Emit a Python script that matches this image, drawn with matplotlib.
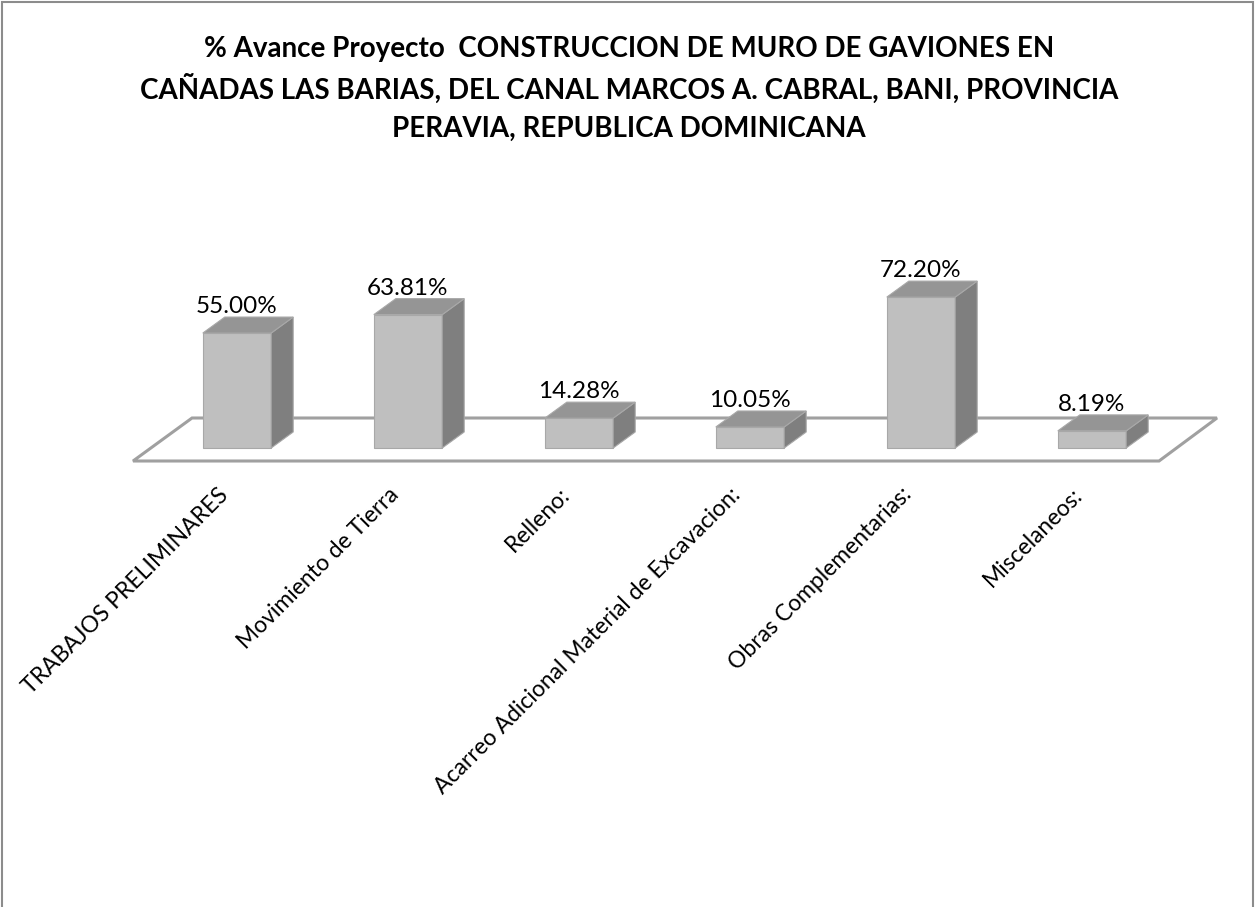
import matplotlib
matplotlib.use("Agg")
import matplotlib.pyplot as plt
from matplotlib.patches import Polygon, Rectangle

# data
categories = [
    "TRABAJOS PRELIMINARES",
    "Movimiento de Tierra",
    "Relleno:",
    "Acarreo Adicional Material de Excavacion:",
    "Obras Complementarias:",
    "Miscelaneos:",
]
values = [55.00, 63.81, 14.28, 10.05, 72.20, 8.19]

title_lines = [
    "% Avance Proyecto  CONSTRUCCION DE MURO DE GAVIONES EN",
    "CAÑADAS LAS BARIAS, DEL CANAL MARCOS A. CABRAL, BANI, PROVINCIA",
    "PERAVIA, REPUBLICA DOMINICANA",
]

W, H = 1256, 907
FONT = "Lato"

# colours of the fake 3d bars
FRONT = "#bfbfbf"
TOP = "#959595"
SIDE = "#7f7f7f"
EDGE = "#a8a8a8"

fig = plt.figure(figsize=(W / 100, H / 100), dpi=100)

# axes placed so one category = 171 px and 1 % = 2.09 px
step_px, pct_px = 171.0, 2.09
x0_px, y0_px = 237.0, 448.0
xlim = (-0.75, 5.85)
ylim = (-10, 90)
left = x0_px + xlim[0] * step_px
bottom = H - (y0_px - ylim[0] * pct_px)
ax = fig.add_axes([left / W, bottom / H,
                   (xlim[1] - xlim[0]) * step_px / W,
                   (ylim[1] - ylim[0]) * pct_px / H])
ax.set_xlim(*xlim)
ax.set_ylim(*ylim)
ax.axis("off")

bar_w = 0.4
dx, dy = 22 / step_px, 16 / pct_px  # bar depth offset

# floor plane
fl_front, fl_back = -13 / pct_px, 30 / pct_px
floor = Polygon([(-0.608, fl_front), (5.392, fl_front),
                 (5.731, fl_back), (-0.263, fl_back)],
                closed=True, facecolor="white", edgecolor="#a0a0a0",
                linewidth=2.2, zorder=1)
ax.add_patch(floor)

xs = list(range(len(values)))
ax.bar(xs, values, width=bar_w, color=FRONT, edgecolor=EDGE,
       linewidth=0.8, zorder=3)

for x, v in zip(xs, values):
    r = x + bar_w / 2
    l = x - bar_w / 2
    side = Polygon([(r, 0), (r + dx, dy), (r + dx, v + dy), (r, v)],
                   closed=True, facecolor=SIDE, edgecolor=EDGE,
                   linewidth=0.8, zorder=3)
    top = Polygon([(l, v), (r, v), (r + dx, v + dy), (l + dx, v + dy)],
                  closed=True, facecolor=TOP, edgecolor=EDGE,
                  linewidth=0.8, zorder=3)
    ax.add_patch(side)
    ax.add_patch(top)
    ax.text(x, v + dy, f"{v:.2f}%", ha="center", va="bottom",
            fontsize=17.5, family=FONT, zorder=4)

# rotated category labels
for x, name in zip(xs, categories):
    ax.text(x - 20 / step_px, -36 / pct_px, name, rotation=45,
            rotation_mode="anchor", ha="right", va="top",
            fontsize=16.5, family=FONT, clip_on=False)

# title, one line at a time so the spacing stays even
for i, line in enumerate(title_lines):
    fig.text(629 / W, 1 - (47 + 39.5 * i) / H, line, ha="center",
             va="center_baseline", fontsize=20, fontweight="bold",
             family=FONT)

# chart area border
fig.add_artist(Rectangle((2 / W, -0.01), (W - 5) / W, 1 - 2 / H + 0.01,
                         transform=fig.transFigure, fill=False,
                         edgecolor="#8c8c8c", linewidth=1.5))

fig.savefig("out.png", dpi=100)
